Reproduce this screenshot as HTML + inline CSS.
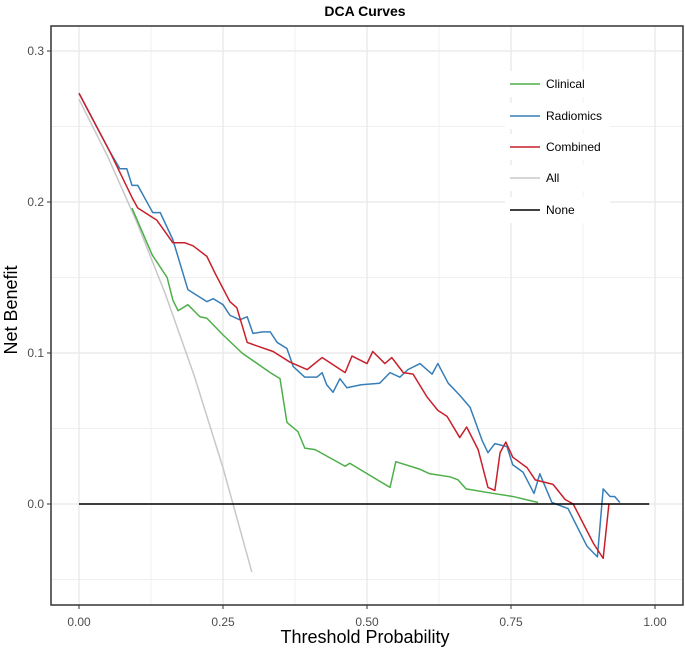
<!DOCTYPE html>
<html><head><meta charset="utf-8"><style>
body{margin:0;background:#fff;}
svg{display:block;font-family:"Liberation Sans",Arial,sans-serif;}
</style></head><body>
<svg id="chart" width="685" height="653">
<text x="365" y="16" text-anchor="middle" font-size="14" font-weight="bold" fill="#000">DCA Curves</text>
<g id="grid"></g>
<g id="series"></g>
<g id="axes"></g>
<text x="365" y="643" text-anchor="middle" font-size="18" fill="#000">Threshold Probability</text>
<text transform="translate(17,310) rotate(-90)" text-anchor="middle" font-size="18" fill="#000">Net Benefit</text>
<g id="legend"></g>
</svg>
<script>
const xTicks=[0,0.25,0.5,0.75,1];
const xTickLabels=["0.00","0.25","0.50","0.75","1.00"];
const yTicks=[0,0.1,0.2,0.3];
const yTickLabels=["0.0","0.1","0.2","0.3"];
const seriesNames=["Clinical","Radiomics","Combined","All","None"];
const clinicalT=[0.092,0.127,0.153,0.163,0.172,0.189,0.21,0.222,0.25,0.283,0.332,0.349,0.361,0.38,0.392,0.41,0.462,0.47,0.54,0.55,0.592,0.609,0.644,0.658,0.672,0.719,0.753,0.797];
const clinicalNB=[0.196,0.165,0.150,0.135,0.128,0.132,0.124,0.123,0.112,0.100,0.087,0.083,0.054,0.048,0.037,0.036,0.025,0.027,0.011,0.028,0.023,0.020,0.018,0.016,0.010,0.007,0.005,0.001];
const radiomicsT=[0,0.054,0.071,0.083,0.092,0.102,0.128,0.141,0.163,0.189,0.222,0.233,0.25,0.262,0.279,0.292,0.302,0.319,0.332,0.344,0.361,0.372,0.392,0.413,0.422,0.43,0.441,0.453,0.465,0.49,0.522,0.54,0.557,0.571,0.592,0.613,0.623,0.641,0.661,0.679,0.7,0.71,0.722,0.743,0.753,0.771,0.79,0.8,0.821,0.849,0.882,0.9,0.91,0.922,0.93,0.939];
const radiomicsNB=[0.272,0.233,0.222,0.222,0.211,0.211,0.193,0.193,0.175,0.142,0.134,0.136,0.132,0.125,0.122,0.124,0.113,0.114,0.114,0.107,0.103,0.091,0.084,0.084,0.087,0.079,0.074,0.083,0.077,0.079,0.080,0.087,0.084,0.089,0.093,0.086,0.093,0.080,0.072,0.064,0.042,0.034,0.040,0.038,0.026,0.021,0.007,0.020,0.001,-0.003,-0.028,-0.035,0.010,0.005,0.005,0.001];
const combinedT=[0,0.054,0.092,0.102,0.135,0.163,0.184,0.198,0.222,0.236,0.262,0.274,0.292,0.314,0.337,0.366,0.396,0.422,0.462,0.474,0.5,0.51,0.531,0.543,0.563,0.58,0.604,0.623,0.639,0.661,0.673,0.693,0.71,0.722,0.731,0.741,0.753,0.778,0.792,0.823,0.844,0.858,0.893,0.91,0.92];
const combinedNB=[0.272,0.233,0.203,0.196,0.188,0.173,0.173,0.171,0.164,0.153,0.134,0.130,0.107,0.104,0.101,0.094,0.089,0.097,0.087,0.098,0.093,0.101,0.093,0.097,0.087,0.086,0.071,0.062,0.058,0.044,0.051,0.036,0.011,0.009,0.034,0.041,0.031,0.024,0.016,0.013,0.003,0,-0.026,-0.036,0];
const allT=[0,0.05,0.1,0.15,0.2,0.25,0.3];
const allNB=[0.268,0.230,0.187,0.139,0.085,0.024,-0.045];
const noneT=[0,0.99];
const noneNB=[0,0];
const colors={Clinical:"#4daf4a",Radiomics:"#377eb8",Combined:"#c8202a",All:"#c8c8c8",None:"#000"};

const X=t=>79+576*t;
const Y=v=>504-1510*v;
const NS="http://www.w3.org/2000/svg";
function mk(tag,attrs,parent){const e=document.createElementNS(NS,tag);for(const k in attrs)e.setAttribute(k,attrs[k]);parent.appendChild(e);return e;}
const grid=document.getElementById('grid'),axes=document.getElementById('axes'),ser=document.getElementById('series'),leg=document.getElementById('legend');
const L=51,R=683,T=26,B=605;
[0.125,0.375,0.625,0.875].forEach(t=>{const g=mk('line',{x1:X(t),x2:X(t),y1:T,y2:B,stroke:'#f0f0f0','stroke-width':1},grid);

});
[-0.05,0.05,0.15,0.25].forEach(v=>{const g=mk('line',{x1:L,x2:R,y1:Y(v),y2:Y(v),stroke:'#f0f0f0','stroke-width':1},grid);

});
xTicks.forEach((t,i)=>{const g=mk('line',{x1:X(t),x2:X(t),y1:T,y2:B,stroke:'#ebebeb','stroke-width':1.5},grid);


const k=mk('line',{x1:X(t),x2:X(t),y1:B,y2:B+4,stroke:'#333'},axes);


const tx=mk('text',{x:X(t),y:B+21,'text-anchor':'middle','font-size':12,fill:'#4d4d4d'},axes);tx.textContent=xTickLabels[i];

});
yTicks.forEach((v,i)=>{const g=mk('line',{x1:L,x2:R,y1:Y(v),y2:Y(v),stroke:'#ebebeb','stroke-width':1.5},grid);


const k=mk('line',{x1:L-4,x2:L,y1:Y(v),y2:Y(v),stroke:'#333'},axes);


const tx=mk('text',{x:L-7,y:Y(v)+4,'text-anchor':'end','font-size':12,fill:'#4d4d4d'},axes);tx.textContent=yTickLabels[i];

});
const ax=mk('rect',{x:L,y:T,width:R-L,height:B-T,fill:'none',stroke:'#333','stroke-width':1.5},axes);


function line(ts,vs,name,w){const p=mk('polyline',{points:ts.map((t,i)=>X(t)+','+Y(vs[i])).join(' '),fill:'none',stroke:colors[name],'stroke-width':w,'stroke-linejoin':'round'},ser);

}
line(allT,allNB,'All',1.5);
line(clinicalT,clinicalNB,'Clinical',1.5);
line(radiomicsT,radiomicsNB,'Radiomics',1.5);
line(combinedT,combinedNB,'Combined',1.5);
line(noneT,noneNB,'None',1.5);
const ly=[84,116,147,178,210];
seriesNames.forEach((n,i)=>{const g=mk('g',{},leg);


mk('rect',{x:505,y:ly[i]-13,width:105,height:26,fill:'#fff'},g);
mk('line',{x1:510,x2:540,y1:ly[i],y2:ly[i],stroke:colors[n],'stroke-width':1.5},g);
const t=mk('text',{x:546,y:ly[i]+4,'font-size':12,fill:'#000'},g);t.textContent=n;});
</script>
</body></html>
